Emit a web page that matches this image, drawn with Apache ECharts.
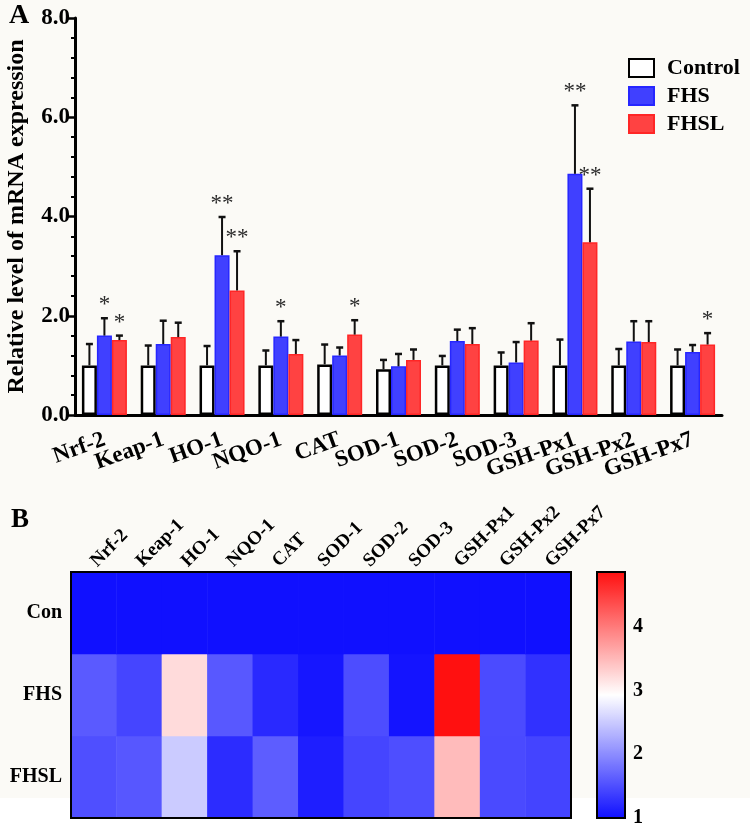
<!DOCTYPE html>
<html><head><meta charset="utf-8">
<script src="https://cdn.jsdelivr.net/npm/echarts@6/dist/echarts.min.js"></script>
<style>html,body{margin:0;padding:0;background:#fbfaf6}#c{width:750px;height:827px}</style>
</head><body><div id="c"></div>
<script>
// ---------- data ----------
const categories = ['Nrf-2','Keap-1','HO-1','NQO-1','CAT','SOD-1','SOD-2','SOD-3','GSH-Px1','GSH-Px2','GSH-Px7'];
const yTicks = [0, 2, 4, 6, 8];
const controlMean = [1.00,1.00,1.00,1.00,1.02,0.92,1.00,1.00,1.00,1.00,1.00];
const controlSD   = [0.43,0.40,0.39,0.30,0.40,0.19,0.19,0.26,0.52,0.33,0.32];
const fhsMean     = [1.60,1.43,3.22,1.58,1.20,0.98,1.49,1.06,4.86,1.48,1.27];
const fhsSD       = [0.35,0.47,0.77,0.31,0.16,0.25,0.23,0.41,1.38,0.41,0.14];
const fhslMean    = [1.51,1.57,2.51,1.23,1.62,1.11,1.43,1.50,3.48,1.47,1.42];
const fhslSD      = [0.09,0.29,0.79,0.28,0.29,0.21,0.32,0.35,1.08,0.42,0.23];
const controlSig  = ['','','','','','','','','','',''];
const fhsSig      = ['*','','**','*','','','','','**','',''];
const fhslSig     = ['*','','**','','*','','','','**','','*'];
// heatmap (panel B)
const heatRows = ['FHSL','FHS','Con'];
const heatCon  = [1,1,1,1,1,1,1,1,1,1,1];
const heatFHS  = [1.60,1.43,3.22,1.58,1.20,1.05,1.49,1.03,4.86,1.48,1.27];
const heatFHSL = [1.51,1.57,2.51,1.23,1.62,1.11,1.43,1.50,3.48,1.47,1.42];
const colorMin = 1, colorMax = 4.86;
const colorTicks = [1, 2, 3, 4];

// ---------- style ----------
const FONT = 'Liberation Serif';
const BAR_W = 15;

function errSeries(means, sds, sigs, idx) {
  return {
    type: 'custom', xAxisIndex: 0, yAxisIndex: 0, z: 6, silent: true,
    data: means.map((m, i) => [i, m, m + sds[i]]),
    encode: { x: 0, y: [1, 2] },
    renderItem: function (params, api) {
      const i = api.value(0);
      const p0 = api.coord([i, api.value(1)]);
      const p1 = api.coord([i, api.value(2)]);
      const x = p0[0] + (idx - 1) * BAR_W;
      const ch = [
        { type: 'line', shape: { x1: x, y1: p0[1], x2: x, y2: p1[1] }, style: { stroke: '#111', lineWidth: 2 } },
        { type: 'line', shape: { x1: x - 3.5, y1: p1[1], x2: x + 3.5, y2: p1[1] }, style: { stroke: '#111', lineWidth: 2.5 } }
      ];
      const s = sigs[params.dataIndex];
      if (s) ch.push({ type: 'text', x: x, y: p1[1] - 13, style: { text: s, fill: '#2a2a2a', font: '23px "' + FONT + '"', align: 'center', verticalAlign: 'middle' } });
      return { type: 'group', children: ch };
    }
  };
}

const heatData = [];
[heatFHSL, heatFHS, heatCon].forEach((row, r) => row.forEach((v, c) => heatData.push([c, r, v])));

const chart = echarts.init(document.getElementById('c'));
chart.setOption({
  backgroundColor: '#fbfaf6',
  animation: false,
  textStyle: { fontFamily: FONT },
  graphic: [
    { type: 'rect', z: -1, shape: { x: 0, y: 798, width: 750, height: 29 }, style: { fill: '#ffffff' } },
    { type: 'text', left: 9, top: 2, style: { text: 'A', font: 'bold 28px "' + FONT + '"', fill: '#000' } },
    { type: 'text', left: 11, top: 507, style: { text: 'B', font: 'bold 27px "' + FONT + '"', fill: '#000' } }
  ],
  legend: {
    orient: 'vertical', left: 628, top: 57, itemWidth: 25, itemHeight: 18, itemGap: 6, padding: 0, icon: 'rect',
    data: ['Control', 'FHS', 'FHSL'],
    textStyle: { fontFamily: FONT, fontSize: 22, fontWeight: 'bold', color: '#000', padding: [0, 0, 0, 8] }
  },
  grid: [
    { left: 75, right: 28, top: 18, bottom: 412, outerBoundsMode: 'none', containLabel: false },
    { left: 71, right: 179, top: 572, bottom: 9, outerBoundsMode: 'none', containLabel: false, show: true, z: 10, backgroundColor: 'transparent', borderColor: '#000', borderWidth: 2 },
    { left: 597, width: 28, top: 572, height: 246, outerBoundsMode: 'none', containLabel: false, show: true, z: 10, backgroundColor: 'transparent', borderColor: '#000', borderWidth: 2 }
  ],
  xAxis: [
    {
      gridIndex: 0, type: 'category', data: categories,
      axisLine: { lineStyle: { color: '#000', width: 3 } },
      axisTick: { alignWithLabel: true, length: 5, lineStyle: { color: '#000', width: 2.5 } },
      axisLabel: { rotate: 20, margin: 24, color: '#000', fontFamily: FONT, fontSize: 23, fontWeight: 'bold', interval: 0 },
      splitLine: { show: false }
    },
    {
      gridIndex: 1, type: 'category', data: categories, position: 'top',
      axisLine: { show: false }, axisTick: { show: false },
      axisLabel: { rotate: -45, margin: 8, color: '#000', fontFamily: FONT, fontSize: 19, fontWeight: 'bold', interval: 0 },
      splitArea: { show: false }
    },
    { gridIndex: 2, type: 'category', data: [''], show: false }
  ],
  yAxis: [
    {
      gridIndex: 0, type: 'value', min: yTicks[0], max: yTicks[yTicks.length - 1], interval: 2,
      name: 'Relative level of mRNA expression', nameLocation: 'middle', nameGap: 46,
      nameTextStyle: { fontFamily: FONT, fontSize: 24, fontWeight: 'bold', color: '#000' },
      axisLine: { show: true, lineStyle: { color: '#000', width: 3 } },
      axisTick: { show: true, length: 7, lineStyle: { color: '#000', width: 2.5 } },
      minorTick: { show: true, splitNumber: 5, length: 4, lineStyle: { color: '#000', width: 2 } },
      axisLabel: { margin: 5, color: '#000', fontFamily: FONT, fontSize: 23, fontWeight: 'bold', formatter: v => v.toFixed(1) },
      splitLine: { show: false }
    },
    {
      gridIndex: 1, type: 'category', data: heatRows,
      axisLine: { show: false }, axisTick: { show: false },
      axisLabel: { margin: 9, color: '#000', fontFamily: FONT, fontSize: 20, fontWeight: 'bold' }
    },
    {
      gridIndex: 2, type: 'value', position: 'right', min: colorMin, max: colorMax, interval: 1,
      axisLine: { show: true, lineStyle: { color: '#000', width: 2 } },
      axisTick: { show: true, inside: true, length: 4, lineStyle: { color: '#000', width: 1.5 } },
      axisLabel: { margin: 8, color: '#000', fontFamily: FONT, fontSize: 20, fontWeight: 'bold', showMaxLabel: false,
        formatter: v => (colorTicks.indexOf(v) >= 0 ? String(v) : '') },
      splitLine: { show: false }
    }
  ],
  visualMap: {
    type: 'continuous', seriesIndex: 6, min: colorMin, max: colorMax, calculable: false,
    inRange: { color: ['#1010ff', '#ffffff', '#ff1010'] },
    left: 597, top: 572, itemWidth: 28, itemHeight: 246, padding: 0, text: null, showLabel: false,
    orient: 'vertical', z: 4
  },
  series: [
    { name: 'Control', type: 'bar', xAxisIndex: 0, yAxisIndex: 0, data: controlMean, barWidth: BAR_W, barGap: '0%',
      itemStyle: { color: '#ffffff', borderColor: '#000', borderWidth: 2.5 } },
    { name: 'FHS', type: 'bar', xAxisIndex: 0, yAxisIndex: 0, data: fhsMean, barWidth: BAR_W, barGap: '0%',
      itemStyle: { color: '#4040ff', borderColor: '#2626ff', borderWidth: 1.5 } },
    { name: 'FHSL', type: 'bar', xAxisIndex: 0, yAxisIndex: 0, data: fhslMean, barWidth: BAR_W, barGap: '0%',
      itemStyle: { color: '#ff4242', borderColor: '#ff2626', borderWidth: 1.5 } },
    errSeries(controlMean, controlSD, controlSig, 0),
    errSeries(fhsMean, fhsSD, fhsSig, 1),
    errSeries(fhslMean, fhslSD, fhslSig, 2),
    { type: 'heatmap', xAxisIndex: 1, yAxisIndex: 1, data: heatData, itemStyle: { borderWidth: 0 }, emphasis: { disabled: true } }
  ]
});
</script></body></html>
